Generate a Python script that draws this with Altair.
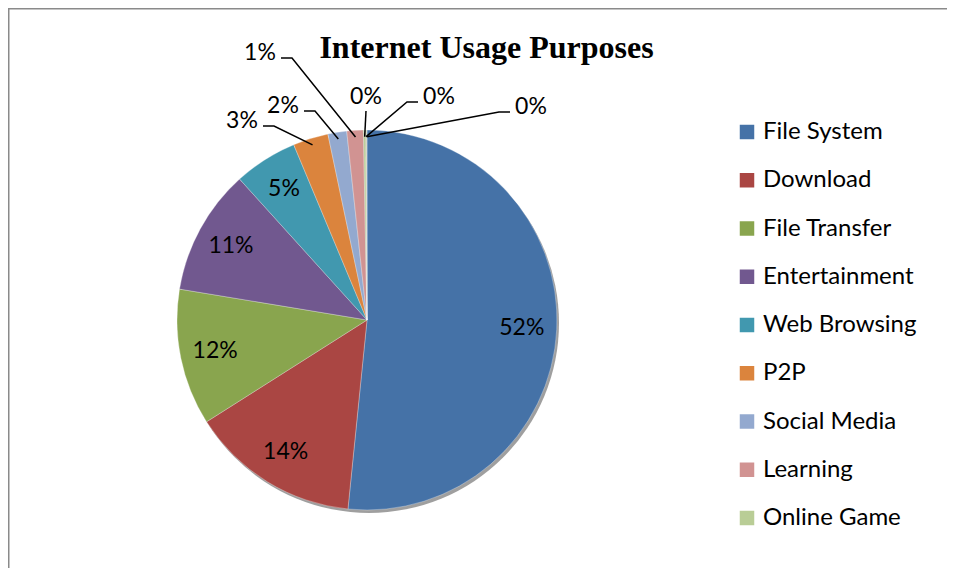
import altair as alt
import pandas as pd
import numpy as np

# ---- data ----
categories = ["File System", "Download", "File Transfer", "Entertainment",
              "Web Browsing", "P2P", "Social Media", "Learning", "Online Game",
              "Other A", "Other B"]
values = [51.6, 14.4, 11.6, 10.7, 5.4, 3.0, 1.6, 1.4, 0.2, 0.05, 0.05]
colors = ["#4572A7", "#AA4643", "#89A54E", "#71588F", "#4198AF", "#DB843D",
          "#93A9CF", "#D19392", "#B9CD96", "#A47D7C", "#B5CA92"]
legend_items = categories[:9]
title_text = "Internet Usage Purposes"

# ---- layout / style ----
inside_count = 5
outside_dx = [-125, -84, -107, -1, 72, 164]
outside_dy = [-199, -214, -267, -223, -223, -213]
outside_side = [1, 1, 1, 0, -1, -1]

W, H = 939, 560
CX, CY, R = 359, 312, 190
LABEL_R = 155
FONT = "Lato"

total = float(sum(values))
fr = np.array(values) / total
ends = np.cumsum(fr) * 2 * np.pi
starts = ends - fr * 2 * np.pi
mids = (starts + ends) / 2
labels = [f"{int(np.floor(v + 0.5))}%" for v in values]

pie_df = pd.DataFrame({"category": categories, "t0": starts, "t1": ends,
                       "order": range(len(categories))})

in_df = pd.DataFrame({
    "x": [CX + LABEL_R * np.sin(m) for m in mids[:inside_count]],
    "y": [CY - LABEL_R * np.cos(m) for m in mids[:inside_count]],
    "label": labels[:inside_count],
})

out_rows, line_rows = [], []
for k, i in enumerate(range(inside_count, len(values))):
    tx = CX + outside_dx[k]
    ty = CY + outside_dy[k]
    out_rows.append({"x": tx, "y": ty, "label": labels[i]})
    ax = CX + 0.965 * R * np.sin(mids[i])
    ay = CY - 0.965 * R * np.cos(mids[i])
    s = outside_side[k]
    if s == 0:
        ex, ey = tx, ty + 14
        elx, ely = ex, ey
    else:
        ex, ey = tx + s * 21, ty + 5
        elx, ely = ex + s * 11, ey
    for j, (px, py) in enumerate([(ex, ey), (elx, ely), (ax, ay)]):
        line_rows.append({"id": k, "idx": j, "x": px, "y": py})
out_df = pd.DataFrame(out_rows)
line_df = pd.DataFrame(line_rows)

xs = alt.Scale(domain=[0, W], nice=False, zero=False)
ys = alt.Scale(domain=[0, H], nice=False, zero=False, reverse=True)
one = pd.DataFrame({"a": [0]})

frame_top = alt.Chart(one).mark_rect(color="#8a8a8a").encode(
    x=alt.value(0), x2=alt.value(W), y=alt.value(0), y2=alt.value(1.5))
frame_left = alt.Chart(one).mark_rect(color="#8a8a8a").encode(
    x=alt.value(0), x2=alt.value(1.5), y=alt.value(0), y2=alt.value(H))

shadow = alt.Chart(one).mark_arc(radius=R, theta=0, theta2=2 * np.pi,
                                 color="#2a2a2a", opacity=0.45).encode(
    x=alt.value(CX + 2), y=alt.value(CY + 3))

arcs = alt.Chart(pie_df).mark_arc(radius=R, stroke="white", strokeWidth=0.5,
                                  strokeOpacity=0.6).encode(
    theta=alt.Theta("t0:Q", scale=None),
    theta2="t1:Q",
    color=alt.Color("category:N",
                    scale=alt.Scale(domain=categories, range=colors),
                    legend=alt.Legend(title=None, orient="none", legendX=727,
                                      legendY=112, values=legend_items,
                                      symbolType="square", symbolSize=210,
                                      symbolStrokeWidth=0, symbolOpacity=1,
                                      labelFont=FONT, labelFontSize=24,
                                      labelColor="black", labelOffset=4,
                                      rowPadding=24.25,
                                      labelLimit=300, padding=0)),
    order=alt.Order("order:Q"),
    x=alt.value(CX), y=alt.value(CY))

in_text = alt.Chart(in_df).mark_text(font=FONT, fontSize=23, color="black",
                                     baseline="middle", align="center").encode(
    x=alt.X("x:Q", scale=xs, axis=None), y=alt.Y("y:Q", scale=ys, axis=None),
    text="label:N")

lines = alt.Chart(line_df).mark_line(color="black", strokeWidth=1.5).encode(
    x=alt.X("x:Q", scale=xs, axis=None), y=alt.Y("y:Q", scale=ys, axis=None),
    detail="id:N", order="idx:Q")

out_text = alt.Chart(out_df).mark_text(font=FONT, fontSize=23, color="black",
                                       baseline="middle", align="center").encode(
    x=alt.X("x:Q", scale=xs, axis=None), y=alt.Y("y:Q", scale=ys, axis=None),
    text="label:N")

title = alt.Chart(pd.DataFrame({"t": [title_text]})).mark_text(
    font="Liberation Serif", fontSize=32, fontWeight="bold", color="black",
    align="center", baseline="alphabetic").encode(
    x=alt.value(478.5), y=alt.value(50), text="t:N")

chart = alt.layer(frame_top, frame_left, shadow, arcs, in_text, lines,
                  out_text, title).properties(
    width=W, height=H, padding=0,
    autosize=alt.AutoSizeParams(type="none")
).configure_view(stroke="transparent", strokeWidth=0)

chart.save("out.html", embed_options={"renderer": "svg", "actions": False})
